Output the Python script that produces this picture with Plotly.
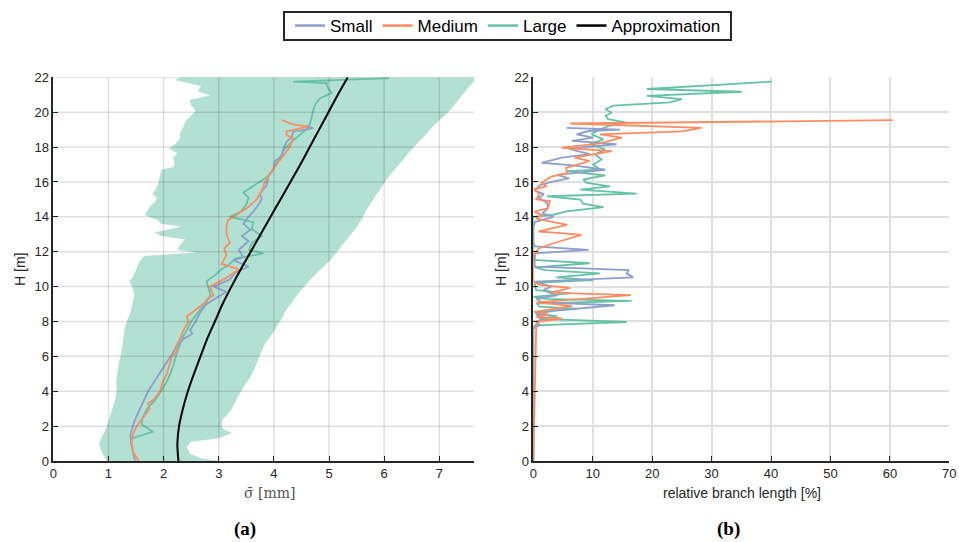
import plotly.graph_objects as go

# ---------------- data: panel (a) ----------------
small_H = [0, 0.5, 1, 1.5, 2, 2.5, 3, 3.5, 4, 4.5, 5, 5.5, 6, 6.5, 7, 7.3, 7.5, 8, 8.5, 9.0, 9.7, 10.0, 10.4,
           10.8, 11.15, 11.5, 11.7, 12.1, 12.6, 12.9, 13.25, 13.6, 14.0, 14.3, 14.6, 15.0, 15.35, 15.8, 16.3,
           16.7, 17.2, 17.45, 17.9, 18.3, 18.56, 18.88, 19.07, 19.2]
small_s = [1.48, 1.44, 1.41, 1.40, 1.44, 1.50, 1.57, 1.64, 1.72, 1.82, 1.92, 2.02, 2.12, 2.23, 2.36, 2.52, 2.48,
           2.58, 2.66, 2.78, 3.14, 2.91, 3.20, 3.30, 3.54, 3.27, 3.45, 3.36, 3.54, 3.42, 3.57, 3.45, 3.54, 3.63,
           3.70, 3.78, 3.75, 3.87, 3.90, 3.99, 4.02, 4.14, 4.17, 4.23, 4.32, 4.35, 4.71, 4.60]

medium_H = [0, 0.5, 1, 1.5, 2, 2.5, 3, 3.3, 3.5, 4, 4.5, 5, 5.5, 6, 6.3, 6.5, 7, 7.5, 8, 8.3, 8.5, 9, 9.3, 9.5,
            10, 10.2, 10.5, 11, 11.3, 11.8, 12.2, 12.5, 13, 13.5, 13.8, 14, 14.5, 15, 15.5, 16, 16.5, 17, 17.5,
            18, 18.5, 18.7, 18.9, 19.17, 19.3, 19.55]
medium_s = [1.55, 1.45, 1.42, 1.44, 1.51, 1.63, 1.75, 1.72, 1.81, 1.94, 1.98, 2.06, 2.10, 2.15, 2.25, 2.21,
            2.30, 2.36, 2.45, 2.42, 2.51, 2.72, 2.80, 2.90, 2.84, 2.95, 3.14, 3.36, 3.05, 3.14, 3.10, 3.20,
            3.14, 3.14, 3.17, 3.27, 3.51, 3.69, 3.78, 3.84, 3.93, 4.05, 4.17, 4.29, 4.35, 4.23, 4.23, 4.62,
            4.35, 4.14]

large_H = [1.3, 1.68, 2.1, 2.5, 3.0, 3.5, 4.0, 4.5, 5.0, 5.5, 6.0, 6.5, 7.0, 7.5, 8.0, 8.5, 9.0, 9.5, 10.0,
           10.3, 10.7, 11.0, 11.3, 11.6, 11.9, 12.1, 12.5, 12.9, 13.3, 13.7, 14.0, 14.3, 14.7, 15.1, 15.4,
           15.7, 16.0, 16.3, 16.7, 17.1, 17.5, 17.9, 18.3, 18.7, 19.1, 19.4, 19.8, 20.2, 20.5, 20.8, 21.1,
           21.5, 21.66, 21.75, 21.95]
large_s = [1.42, 1.81, 1.60, 1.62, 1.70, 1.85, 1.95, 2.05, 2.12, 2.18, 2.22, 2.27, 2.33, 2.42, 2.50, 2.62,
           2.75, 2.85, 2.80, 2.78, 2.95, 3.05, 3.20, 3.30, 3.81, 3.55, 3.60, 3.78, 3.60, 3.63, 3.20, 3.40,
           3.50, 3.54, 3.45, 3.60, 3.75, 3.88, 3.98, 4.05, 4.12, 4.20, 4.32, 4.48, 4.62, 4.66, 4.69, 4.72,
           4.76, 4.84, 5.05, 4.96, 4.96, 4.35, 6.10]

band_left_H = [0, 0.5, 1.0, 1.5, 2.0, 2.5, 3.0, 3.5, 4.0, 4.5, 5.0, 5.5, 6.0, 6.5, 7.0, 7.5, 8.0, 8.5, 9.0,
               9.5, 10.0, 10.3, 10.6, 11.0, 11.5, 11.75, 11.95, 12.1, 12.4, 12.7, 12.9, 13.1, 13.3, 13.45,
               13.6, 13.8, 14.1, 14.4, 14.6, 14.9, 15.1, 15.3, 15.6, 15.9, 16.3, 16.7, 16.85, 17.1, 17.4,
               17.65, 17.9, 18.2, 18.5, 18.8, 19.1, 19.5, 19.8, 20.1, 20.4, 20.7, 20.95, 21.2, 21.5, 21.7,
               21.85, 22.0]
band_left_s = [0.97, 0.88, 0.83, 0.90, 0.97, 1.02, 1.07, 1.12, 1.15, 1.14, 1.16, 1.18, 1.22, 1.25, 1.27,
               1.29, 1.33, 1.40, 1.44, 1.47, 1.43, 1.38, 1.45, 1.50, 1.57, 1.65, 2.60, 2.25, 2.30, 2.39,
               1.95, 1.84, 2.15, 2.32, 1.95, 1.90, 1.66, 1.72, 1.76, 1.85, 1.88, 1.80, 1.86, 1.90, 1.93,
               1.96, 2.18, 2.20, 2.17, 2.25, 2.10, 2.22, 2.30, 2.30, 2.35, 2.40, 2.50, 2.58, 2.50, 2.47,
               2.84, 2.62, 2.68, 2.40, 2.20, 2.30]
band_right_H = [0, 0.15, 0.4, 0.8, 1.1, 1.3, 1.6, 1.8, 2.0, 2.4, 2.8, 3.3, 3.9, 4.4, 4.8, 5.3, 5.8, 6.3,
                6.75, 7.2, 7.7, 8.2, 8.7, 9.2, 9.6, 10.1, 10.6, 11.0, 11.5, 12.0, 12.5, 13.0, 13.4, 13.9,
                14.4, 14.9, 15.35, 15.8, 16.3, 16.8, 17.3, 17.8, 18.2, 18.7, 19.2, 19.7, 20.1, 20.6, 21.1,
                21.5, 22.0]
band_right_s = [3.02, 2.70, 2.48, 2.42, 2.50, 3.00, 3.24, 3.10, 3.05, 3.07, 3.20, 3.28, 3.39, 3.48, 3.57,
                3.65, 3.72, 3.78, 3.84, 3.95, 4.05, 4.15, 4.23, 4.35, 4.44, 4.58, 4.72, 4.85, 5.02, 5.15,
                5.26, 5.40, 5.50, 5.60, 5.68, 5.78, 5.87, 5.97, 6.08, 6.22, 6.35, 6.48, 6.59, 6.75, 6.89,
                7.05, 7.19, 7.32, 7.44, 7.55, 7.70]

approx_H = [0, 1, 2, 3, 4, 5, 6, 7, 8, 9, 10, 11, 12, 13, 14, 15, 16, 17, 18, 19, 20, 21, 22]
approx_s = [2.27, 2.25, 2.28, 2.35, 2.44, 2.55, 2.67, 2.79, 2.93, 3.07, 3.23, 3.40, 3.58, 3.76, 3.94,
            4.12, 4.30, 4.48, 4.65, 4.82, 4.99, 5.16, 5.34]

# ---------------- data: panel (b) ----------------
small_bH = [0, 7.6, 7.78, 8.0, 8.2, 8.4, 8.6, 8.74, 8.93, 9.1, 9.3, 9.5, 9.8, 10.0, 10.28, 10.53, 10.76,
            10.95, 11.14, 11.3, 11.9, 12.1, 12.3, 12.5, 13.4, 13.7, 14.0, 14.2, 14.5, 14.8, 15.1, 15.3, 15.5,
            15.8, 16.0, 16.2, 16.4, 16.7, 16.95, 17.1, 17.4, 17.6, 17.9, 18.16, 18.35, 18.54, 18.73, 18.92,
            19.0, 19.1]
small_b = [0, 0, 1.1, 0.5, 2.0, 0.5, 3.0, 7.9, 13.7, 1.5, 0.5, 4.0, 1.7, 3.0, 0.3, 16.8, 15.7, 16.0, 0.3,
           0.2, 0.3, 9.3, 0.3, 0, 0, 0.3, 3.4, 1.5, 2.5, 2.3, 0.9, 1.8, 0.3, 1.0, 3.0, 6.0, 4.0, 12.1, 6.7,
           1.4, 4.8, 9.5, 6.0, 14.0, 6.5, 10.1, 7.3, 9.3, 14.6, 5.6]

medium_bH = [0, 7.9, 8.0, 8.17, 8.25, 8.4, 8.55, 8.7, 8.9, 9.1, 9.3, 9.51, 9.65, 9.8, 9.93, 10.1, 10.3,
             11.8, 12.0, 12.2, 12.5, 12.97, 13.1, 13.16, 13.54, 13.9, 14.1, 14.3, 14.5, 14.9, 15.0, 15.3,
             15.6, 15.75, 15.95, 16.3, 16.5, 16.8, 17.2, 17.4, 17.77, 17.96, 18.2, 18.54, 18.73, 18.9,
             19.1, 19.35, 19.54]
medium_b = [0, 0.5, 1.0, 4.8, 0.5, 2.5, 0.3, 3.0, 6.5, 0.5, 9.0, 16.4, 3.0, 5.0, 6.2, 1.0, 0, 0, 0.5, 1.0,
            3.5, 8.1, 3.5, 0.9, 5.7, 0.5, 1.5, 0.2, 2.5, 2.8, 0.5, 1.0, 0.2, 2.25, 1.4, 3.0, 5.7, 5.5, 9.5,
            7.0, 13.2, 4.8, 11.0, 14.9, 11.2, 25.0, 28.3, 6.2, 60.5]

large_bH = [0, 7.7, 7.78, 7.97, 8.15, 8.3, 8.45, 8.55, 8.74, 8.85, 9.03, 9.18, 9.3, 9.41, 9.61, 9.8, 10.0,
            10.22, 10.37, 10.53, 10.76, 10.95, 11.1, 11.34, 11.53, 11.7, 14.0, 14.12, 14.31, 14.56, 14.75,
            14.99, 15.18, 15.33, 15.56, 15.75, 15.95, 16.14, 16.37, 16.62, 16.71, 17.0, 17.29, 17.58,
            17.87, 18.16, 18.44, 18.73, 18.92, 19.2, 19.4, 19.6, 19.79, 19.98, 20.17, 20.37, 20.56, 20.75,
            20.94, 21.17, 21.33, 21.75]
large_b = [0, 0, 0.3, 15.7, 1.0, 4.0, 0.5, 0.3, 7.3, 1.0, 0.6, 16.5, 2.0, 0, 6.2, 0.5, 0.3, 0.3, 10.1,
           3.9, 11.2, 2.0, 0.3, 9.5, 0, 0, 0, 3.4, 5.6, 11.8, 8.4, 7.9, 2.3, 17.4, 7.9, 12.9, 9.0, 8.4,
           12.1, 5.6, 11.2, 10.1, 11.5, 10.4, 12.06, 9.5, 11.8, 9.8, 10.7, 12.6, 15.7, 12.6, 12.2, 13.2,
           12.1, 13.5, 23.0, 25.0, 19.1, 35.1, 19.1, 40.1]

# tick positions
a_xticks = [0, 1, 2, 3, 4, 5, 6, 7]
b_xticks = [0, 10, 20, 30, 40, 50, 60, 70]
h_ticks = [0, 2, 4, 6, 8, 10, 12, 14, 16, 18, 20, 22]

series_names = ["Small", "Medium", "Large", "Approximation"]
colors = {"Small": "#8da0cb", "Medium": "#fc8d62", "Large": "#66c2a5", "Approximation": "#000000"}

fig = go.Figure()

# band (a)
fig.add_trace(go.Scatter(
    x=band_left_s + band_right_s[::-1], y=band_left_H + band_right_H[::-1],
    fill="toself", fillcolor="rgba(102,194,165,0.5)", line=dict(width=0),
    mode="lines", showlegend=False, hoverinfo="skip", xaxis="x", yaxis="y"))

panel_a = {"Small": (small_s, small_H), "Medium": (medium_s, medium_H), "Large": (large_s, large_H)}
for name in ["Large", "Small", "Medium"]:
    xs, ys = panel_a[name]
    fig.add_trace(go.Scatter(x=xs, y=ys, mode="lines", name=name, showlegend=False,
                             line=dict(color=colors[name], width=1.8), xaxis="x", yaxis="y"))

fig.add_trace(go.Scatter(x=approx_s, y=approx_H, mode="lines", name="Approximation", showlegend=False,
                         line=dict(color="black", width=2, shape="spline"), xaxis="x", yaxis="y"))

panel_b = {"Small": (small_b, small_bH), "Medium": (medium_b, medium_bH), "Large": (large_b, large_bH)}
for name in ["Large", "Small", "Medium"]:
    xs, ys = panel_b[name]
    fig.add_trace(go.Scatter(x=xs, y=ys, mode="lines", name=name, showlegend=False,
                             line=dict(color=colors[name], width=1.8), xaxis="x2", yaxis="y2"))

# legend entries (in order)
for name in series_names:
    fig.add_trace(go.Scatter(x=[None], y=[None], mode="lines", name=name, showlegend=True,
                             line=dict(color=colors[name], width=2.5), xaxis="x", yaxis="y"))

axis_common = dict(zeroline=False, automargin=False,
                   showline=True, linecolor="#262626", linewidth=1.5, ticks="inside", ticklen=5,
                   tickcolor="#262626", tickfont=dict(family="Liberation Sans", size=13, color="#262626"),
                   mirror=False)

ydom = [0.1494, 0.8574]
fig.update_layout(
    width=959, height=542,
    margin=dict(l=0, r=0, t=0, b=0),
    paper_bgcolor="white", plot_bgcolor="white",
    xaxis=dict(domain=[0.0556, 0.4943], range=[0, 7.63], tickvals=a_xticks, anchor="y", showgrid=False,
               **axis_common),
    yaxis=dict(domain=ydom, range=[0, 22], tickvals=h_ticks, anchor="x", showgrid=False, **axis_common),
    xaxis2=dict(domain=[0.5561, 0.9899], range=[0, 70], tickvals=b_xticks, anchor="y2", showgrid=True,
                gridcolor="#e0e0e0", gridwidth=1.5, **axis_common),
    yaxis2=dict(domain=ydom, range=[0, 22], tickvals=h_ticks, anchor="x2", showgrid=True,
                gridcolor="#e0e0e0", gridwidth=1.5, **axis_common),
    legend=dict(orientation="h", x=508 / 959, xanchor="center", y=1 - 26 / 542, yanchor="middle",
                borderwidth=0, bgcolor="rgba(0,0,0,0)",
                font=dict(family="Liberation Sans", size=17, color="#000000"),
                traceorder="normal", itemwidth=30),
    showlegend=True,
)

# grid of panel (a), drawn over the translucent band like the original
shapes = []
for xv in a_xticks[1:]:
    shapes.append(dict(type="line", xref="x", yref="y", x0=xv, x1=xv, y0=0, y1=22,
                       line=dict(color="rgba(0,0,0,0.12)", width=1.5), layer="above"))
for hv in h_ticks[1:]:
    shapes.append(dict(type="line", xref="x", yref="y", x0=0, x1=7.63, y0=hv, y1=hv,
                       line=dict(color="rgba(0,0,0,0.12)", width=1.5), layer="above"))
# legend frame
shapes.append(dict(type="rect", xref="paper", yref="paper", x0=284 / 959, x1=731 / 959,
                   y0=1 - 40 / 542, y1=1 - 12 / 542, line=dict(color="#262626", width=2),
                   fillcolor="rgba(0,0,0,0)", layer="above"))
fig.update_layout(shapes=shapes)

annotations = [
    dict(text="H [m]", x=20 / 959, y=1 - 270 / 542, textangle=-90, font=dict(size=14, color="#262626",
         family="Liberation Sans")),
    dict(text="H [m]", x=501 / 959, y=1 - 270 / 542, textangle=-90, font=dict(size=14, color="#262626",
         family="Liberation Sans")),
    dict(text="σ\u0304 [mm]", x=269 / 959, y=1 - 493 / 542, font=dict(size=14, color="#555555",
         family="DejaVu Serif")),
    dict(text="relative branch length [%]", x=742 / 959, y=1 - 493 / 542,
         font=dict(size=14, color="#262626", family="Liberation Sans")),
    dict(text="<b>(a)</b>", x=245 / 959, y=1 - 529 / 542, font=dict(size=19, color="black",
         family="Liberation Serif")),
    dict(text="<b>(b)</b>", x=728 / 959, y=1 - 529 / 542, font=dict(size=19, color="black",
         family="Liberation Serif")),
]
for a in annotations:
    a.update(xref="paper", yref="paper", showarrow=False, xanchor="center", yanchor="middle")
fig.update_layout(annotations=annotations)

fig.write_html("out.html")
